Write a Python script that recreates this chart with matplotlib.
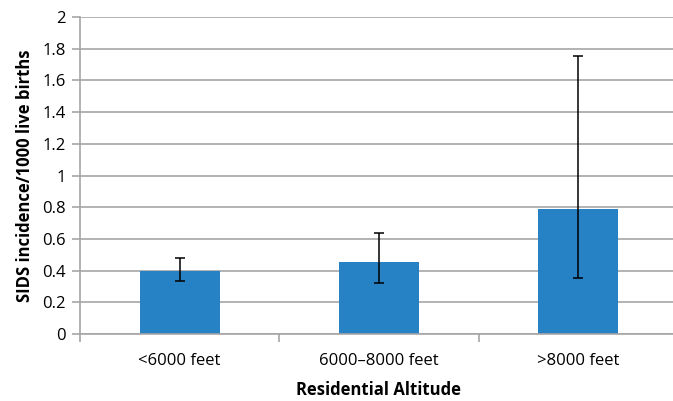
import numpy as np
import matplotlib.pyplot as plt

# Data
categories = ["<6000 feet", "6000\u20138000 feet", ">8000 feet"]
incidence = [0.40, 0.452, 0.787]
err_low = [0.334, 0.322, 0.351]
err_high = [0.48, 0.639, 1.754]

plt.rcParams['font.family'] = ['Open Sans', 'DejaVu Sans']

fig = plt.figure(figsize=(6.73, 4.01), dpi=100)
ax = fig.add_axes([80 / 673, 67 / 401, 598 / 673, 317 / 401])

x = np.arange(len(categories))
yerr = [np.array(incidence) - np.array(err_low), np.array(err_high) - np.array(incidence)]
ax.bar(x, incidence, width=0.4, color="#2681C5", zorder=2)
ax.errorbar(x, incidence, yerr=yerr, fmt="none", ecolor="black", elinewidth=1.1,
            capsize=3.5, capthick=1.1, zorder=3)

ax.set_xlim(-0.5, 2.5)
ax.set_ylim(0, 2)
ax.set_yticks(np.arange(0, 2.01, 0.2))
ax.set_yticklabels(["0", "0.2", "0.4", "0.6", "0.8", "1", "1.2", "1.4", "1.6", "1.8", "2"])
ax.yaxis.grid(True, color="#A6A6A6", linewidth=1.2, zorder=0)
ax.set_axisbelow(True)

# category labels centred, tick marks at category boundaries
ax.set_xticks(x)
ax.set_xticklabels(categories)
ax.tick_params(axis="x", length=0, pad=14, labelsize=12)
ax.set_xticks([-0.5, 0.5, 1.5], minor=True)
ax.tick_params(axis="x", which="minor", length=6, color="#A6A6A6", width=1.2)
ax.tick_params(axis="y", length=6, color="#A6A6A6", width=1.2, labelsize=12, pad=4)

for side in ["top", "right"]:
    ax.spines[side].set_visible(False)
ax.spines["left"].set_color("#A6A6A6")
ax.spines["bottom"].set_color("#A6A6A6")
ax.spines["left"].set_linewidth(1.2)
ax.spines["bottom"].set_linewidth(1.2)

ax.set_xlabel("Residential Altitude", fontsize=12, fontweight="bold", labelpad=8)
ax.set_ylabel("SIDS incidence/1000 live births", fontsize=12, fontweight="bold", labelpad=6)

fig.savefig("out.png", dpi=100)
